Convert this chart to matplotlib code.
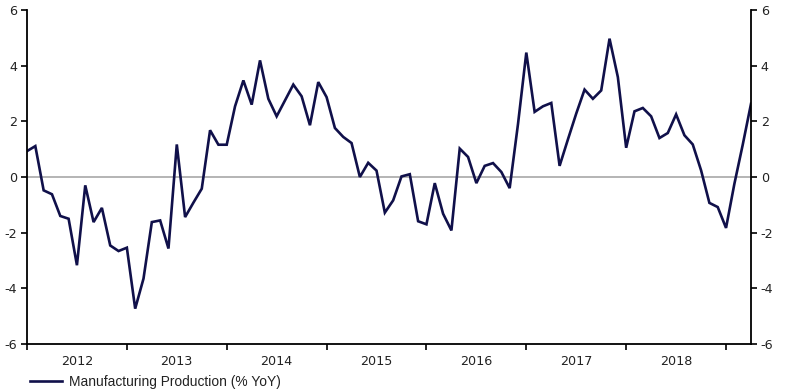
import numpy as np
import matplotlib.pyplot as plt

# monthly % YoY, Jan 2012 .. Apr 2019
values = [
    0.93, 1.11, -0.48, -0.62, -1.40, -1.50, -3.17, -0.30, -1.62, -1.11, -2.46, -2.66,
    -2.54, -4.73, -3.65, -1.62, -1.56, -2.57, 1.17, -1.44, -0.92, -0.42, 1.68, 1.16,
    1.16, 2.54, 3.47, 2.60, 4.19, 2.81, 2.18, 2.75, 3.32, 2.90, 1.86, 3.41,
    2.87, 1.76, 1.44, 1.22, 0.00, 0.51, 0.23, -1.28, -0.84, 0.02, 0.10, -1.59,
    -1.70, -0.22, -1.32, -1.92, 1.02, 0.72, -0.22, 0.40, 0.50, 0.18, -0.40, 1.90,
    4.47, 2.34, 2.54, 2.66, 0.40, 1.35, 2.28, 3.14, 2.81, 3.11, 4.97, 3.59,
    1.05, 2.36, 2.48, 2.18, 1.40, 1.58, 2.25, 1.50, 1.17, 0.24, -0.93, -1.08,
    -1.83, -0.25, 1.15, 2.63,
]
years = ['2012', '2013', '2014', '2015', '2016', '2017', '2018']
series_label = 'Manufacturing Production (% YoY)'

navy = '#10104a'
x = np.arange(len(values))

fig = plt.figure(figsize=(7.9, 3.9), dpi=100)
ax = fig.add_axes([27 / 790, 1 - 344 / 390, 724 / 790, 334 / 390])

line, = ax.plot(x, values, color=navy, lw=1.9, solid_joinstyle='miter')
ax.axhline(0, color='#a0a0a0', lw=1.1, zorder=0)

ax.set_xlim(0, len(values) - 1)
ax.set_ylim(-6, 6)
ax.set_yticks(range(-6, 7, 2))
ax.set_yticklabels([str(v) for v in range(-6, 7, 2)])

# year boundaries as ticks, year names centred between them
ax.set_xticks(np.arange(0, len(values), 12))
ax.set_xticklabels([])
ax.set_xticks(np.arange(6, 12 * len(years), 12), minor=True)
ax.set_xticklabels(years, minor=True)

ax.tick_params(axis='x', which='major', direction='out', length=4, width=1.2, color='black')
ax.tick_params(axis='x', which='minor', length=0, pad=8, labelsize=9.2, labelcolor='#222222')
ax.tick_params(axis='y', direction='out', length=4, width=1.2, left=True, right=True,
               labelleft=True, labelright=True, labelsize=9.2, labelcolor='#222222', pad=3)

for side in ['left', 'right', 'bottom']:
    ax.spines[side].set_linewidth(1.3)
    ax.spines[side].set_color('black')
ax.spines['top'].set_visible(False)

ax.legend([line], [series_label], loc='center left', bbox_to_anchor=(0.004, -0.113),
          frameon=False, prop={'family': 'Liberation Sans', 'size': 9.9},
          handlelength=2.35, handletextpad=0.5, borderaxespad=0, borderpad=0,
          labelcolor='#222222')

fig.savefig('out.png', dpi=100)
